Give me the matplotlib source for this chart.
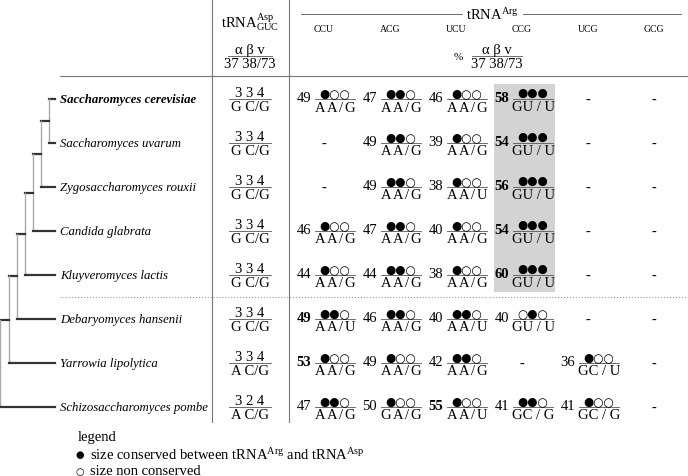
import matplotlib
matplotlib.use("Agg")
import matplotlib.pyplot as plt

plt.rcParams['font.family'] = ['Liberation Serif', 'DejaVu Sans']
plt.rcParams['mathtext.fontset'] = 'custom'
plt.rcParams['mathtext.rm'] = 'Liberation Serif'
plt.rcParams['mathtext.it'] = 'Liberation Serif:italic'

# data
species = ["Saccharomyces cerevisiae", "Saccharomyces uvarum", "Zygosaccharomyces rouxii",
           "Candida glabrata", "Kluyveromyces lactis", "Debaryomyces hansenii",
           "Yarrowia lipolytica", "Schizosaccharomyces pombe"]
asp_sizes = ["3 3 4", "3 3 4", "3 3 4", "3 3 4", "3 3 4", "3 3 4", "3 3 4", "3 2 4"]
asp_bases = ["G C/G", "G C/G", "G C/G", "G C/G", "G C/G", "G C/G", "A C/G", "A C/G"]
codons = ["CCU", "ACG", "UCU", "CCG", "UCG", "GCG"]

arg_pct = [
    [49, 47, 46, 58, None, None],
    [None, 49, 39, 54, None, None],
    [None, 49, 38, 56, None, None],
    [46, 47, 40, 54, None, None],
    [44, 44, 38, 60, None, None],
    [49, 46, 40, 40, None, None],
    [53, 49, 42, None, 36, None],
    [47, 50, 55, 41, 41, None],
]
arg_dots = [
    ["●○○", "●●○", "●○○", "●●●", "", ""],
    ["", "●●○", "●○○", "●●●", "", ""],
    ["", "●●○", "●○○", "●●●", "", ""],
    ["●○○", "●●○", "●○○", "●●●", "", ""],
    ["●○○", "●●○", "●○○", "●●●", "", ""],
    ["●●○", "●●○", "●●○", "○●○", "", ""],
    ["●○○", "●○○", "●●○", "", "●○○", ""],
    ["●●○", "●○○", "●○○", "●●○", "●○○", ""],
]
arg_bases = [
    ["AA/G", "AA/G", "AA/G", "GU / U", "", ""],
    ["", "AA/G", "AA/G", "GU / U", "", ""],
    ["", "AA/G", "AA/U", "GU / U", "", ""],
    ["AA/G", "AA/G", "AA/G", "GU / U", "", ""],
    ["AA/G", "AA/G", "AA/G", "GU / U", "", ""],
    ["AA/U", "AA/G", "AA/U", "GU / U", "", ""],
    ["AA/G", "AA/G", "AA/G", "", "GC / U", ""],
    ["AA/G", "GA/G", "AA/U", "GC / G", "GC / G", ""],
]
bold_cells = [(0, 3), (1, 3), (2, 3), (3, 3), (4, 3), (5, 0), (6, 0), (7, 2)]

fig = plt.figure(figsize=(6.88, 4.77), dpi=100)
ax = fig.add_axes([0, 0, 1, 1])
ax.set_xlim(0, 688)
ax.set_ylim(477, 0)
ax.axis('off')

row_y = [100 + 44 * i for i in range(len(species))]
col_x = [325 + 66 * j for j in range(len(codons))]
fs = 10.5


def spaced(s):
    # letters of the bases drawn a bit apart, as in the original typesetting
    if ' ' in s:
        return s
    return r'$\,$'.join(s)


def fraction(cx, y, top, bottom, w, topfont=None, topsize=fs):
    ax.plot([cx - w / 2, cx + w / 2], [y, y], color='#555555', lw=0.6)
    if topfont:
        ax.text(cx, y - 6.5, top, ha='center', va='center', fontsize=topsize,
                family=topfont)
    else:
        ax.text(cx, y - 6.5, top, ha='center', va='center', fontsize=topsize)
    ax.text(cx, y + 7.5, bottom, ha='center', va='center', fontsize=fs)


# grey highlight for CCG column
ax.add_patch(plt.Rectangle((col_x[3] - 29, 85), 61, 208, color='#d3d3d3', lw=0, zorder=0))

# grid lines
ax.plot([212, 212], [0, 423], color='#777777', lw=0.8)
ax.plot([289, 289], [0, 423], color='#777777', lw=0.8)
ax.plot([60, 688], [77, 77], color='#777777', lw=0.8)
ax.plot([60, 688], [298, 298], color='#999999', lw=0.8, ls=':')
ax.plot([301, 462], [15, 15], color='#555555', lw=0.6)
ax.plot([523, 681], [15, 15], color='#555555', lw=0.6)

# header
ax.text(250, 22, r'tRNA$^{\mathrm{Asp}}_{\mathrm{GUC}}$', ha='center', va='center', fontsize=fs)
ax.text(492, 15, r'tRNA$^{\mathrm{Arg}}$', ha='center', va='center', fontsize=fs)
for j, c in enumerate(codons):
    ax.text(col_x[j] - 1, 30, c, ha='center', va='center', fontsize=7)
fraction(250, 57, 'α β v', '37 38/73', 44)
fraction(497, 57, 'α β v', '37 38/73', 50)
ax.text(458, 58, '%', ha='center', va='center', fontsize=8)

# tree
leaf_end = 55
node_x = [49 - 8.1 * k for k in range(len(species) - 1)]
clade_y = row_y[0]
for k in range(len(species) - 1):
    x = node_x[k]
    if k == 0:
        ya = row_y[0]
        ax.plot([x, leaf_end], [ya, ya], color='#333333', lw=1.6)
    else:
        ya = clade_y
    yb = row_y[k + 1]
    ax.plot([x, x], [ya, yb], color='#aaaaaa', lw=1.0)
    ax.plot([x, leaf_end], [yb, yb], color='#333333', lw=1.6)
    clade_y = (ya + yb) / 2
    if k + 1 < len(node_x):
        ax.plot([node_x[k + 1], x], [clade_y, clade_y], color='#333333', lw=1.6)

# rows
for i, sp in enumerate(species):
    y = row_y[i]
    ax.text(60, y, sp, ha='left', va='center', fontsize=9.2, style='italic',
            weight='bold' if i == 0 else 'normal')
    fraction(250, y, asp_sizes[i], asp_bases[i], 42)
    for j in range(len(codons)):
        cx = col_x[j]
        if arg_pct[i][j] is None:
            ax.text(cx - 1, y, '-', ha='center', va='center', fontsize=fs)
            continue
        ax.text(cx - 14, y - 1, str(arg_pct[i][j]), ha='right', va='center', fontsize=fs,
                weight='bold' if (i, j) in bold_cells else 'normal')
        fraction(cx + 10, y, arg_dots[i][j], spaced(arg_bases[i][j]), 40,
                 topfont='DejaVu Sans', topsize=8.5)

# legend
ax.text(78, 438, 'legend', ha='left', va='center', fontsize=fs)
ax.text(80, 455, '●', ha='center', va='center', fontsize=7, family='DejaVu Sans')
ax.text(90, 455, r'size conserved between tRNA$^{\mathrm{Arg}}$ and tRNA$^{\mathrm{Asp}}$',
        ha='left', va='center', fontsize=fs)
ax.text(80, 472, '○', ha='center', va='center', fontsize=7, family='DejaVu Sans')
ax.text(90, 472, 'size non conserved', ha='left', va='center', fontsize=fs)

fig.savefig('out.png', dpi=100)
